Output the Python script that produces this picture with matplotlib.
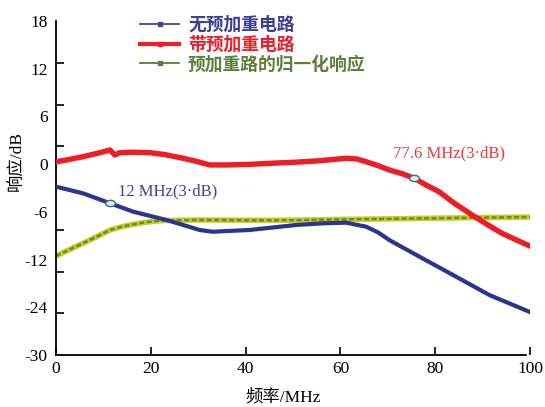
import numpy as np
import matplotlib
matplotlib.use("Agg")
import matplotlib.pyplot as plt
from matplotlib.lines import Line2D
from matplotlib.path import Path
from matplotlib.transforms import Affine2D

# ---------------- data ----------------
tick_labels_db = [-30, -24, -12, -6, 0, 6, 12, 18]
x_ticks = [0, 20, 40, 60, 80, 100]

red_x = [0, 2, 5.7, 9, 11.4, 12.4, 13.5, 16, 19.8, 23, 26.8, 30, 32.4, 36, 40.8, 45,
         50.7, 55, 61.2, 63.5, 65.4, 68, 70.3, 73, 75.6, 78, 80.8, 84, 87.8, 91, 94.1, 97, 100]
red_y = [0.3, 0.5, 0.94, 1.4, 1.78, 1.15, 1.44, 1.5, 1.44, 1.2, 0.74, 0.3, -0.1, -0.1, -0.03, 0.1,
         0.25, 0.4, 0.74, 0.65, 0.31, -0.2, -0.73, -1.2, -1.78, -2.6, -3.46, -4.9, -6.4, -7.6, -8.7, -9.5, -10.3]

blue_x = [0, 5.7, 11.4, 16.3, 23.3, 30.3, 33, 40.8, 50.7, 56, 61.2, 65.4, 68, 70.3, 77.3, 84.4, 91.4, 100]
blue_y = [-2.83, -3.67, -4.92, -5.98, -7.02, -8.28, -8.5, -8.28, -7.65, -7.45, -7.36, -7.86, -8.6, -9.54,
          -11.84, -16.3, -20.9, -24.6]

green_x = [0, 3, 5.7, 9, 11.4, 14, 16.3, 19, 21.9, 26, 30.3, 40, 50, 60, 70, 80, 90, 100]
green_y = [-11.55, -10.7, -9.95, -9.0, -8.28, -7.85, -7.57, -7.3, -7.11, -7.05, -7.02, -7.05, -7.05,
           -6.95, -6.88, -6.8, -6.72, -6.65]

legend_labels = ["无预加重电路", "带预加重电路", "预加重路的归一化响应"]
marker_x = [11.4, 75.6]
annot_text = ["12 MHz(3·dB)", "77.6 MHz(3·dB)"]
annot_pos = [(13.1, -3.38), (71.0, 1.4)]

# ---------------- style ----------------
BLUE = "#2b3590"
RED = "#ee1c25"
OLIVE = "#6b8a2c"
YELLOW = "#c9cc2a"

serif = ["Liberation Serif", "Noto Sans CJK SC"]
plt.rcParams["font.family"] = serif

pos = np.arange(len(tick_labels_db), dtype=float)


def fwd(v):
    return np.interp(v, tick_labels_db, pos)


def inv(p):
    return np.interp(p, pos, tick_labels_db)


W, H = 545, 407
fig = plt.figure(figsize=(W / 100, H / 100), dpi=100)
ax = fig.add_axes([56 / W, 1 - 355 / H, (530 - 56) / W, (355 - 21) / H])
ax.set_yscale("function", functions=(fwd, inv))
ax.set_xlim(0, 100)
ax.set_ylim(-30, 18)

# curves
ax.plot(green_x, green_y, color=YELLOW, lw=4.0, solid_capstyle="butt", zorder=2)
ax.plot(green_x, green_y, color=OLIVE, lw=1.8, dashes=(2, 1), zorder=2.1)
ax.plot(blue_x, blue_y, color=BLUE, lw=3.0, zorder=3)
ax.plot(red_x, red_y, color=RED, lw=3.9, zorder=4)

# 3 dB markers
ell = Path.unit_circle().transformed(Affine2D().scale(1.55, 1.0))
ax.plot([marker_x[0]], [np.interp(marker_x[0], blue_x, blue_y)], marker=ell, ms=7,
        mfc="#dde9f0", mec="#4a6a88", mew=1.0, ls="none", zorder=5)
ax.plot([marker_x[1]], [np.interp(marker_x[1], red_x, red_y)], marker=ell, ms=7,
        mfc="#dde9f0", mec="#4a6a88", mew=1.0, ls="none", zorder=5)

ax.text(annot_pos[0][0], annot_pos[0][1], annot_text[0], color="#3a4595", fontsize=12,
        va="center", ha="left")
ax.text(annot_pos[1][0], annot_pos[1][1], annot_text[1], color="#ee3a3a", fontsize=12,
        va="center", ha="left")

# axes styling
for s in ["top", "right"]:
    ax.spines[s].set_visible(False)
for s in ["left", "bottom"]:
    ax.spines[s].set_linewidth(1.3)
ax.spines["bottom"].set_bounds(0, 99.2)

ax.set_xticks(x_ticks)
ax.set_xticklabels([str(v) for v in x_ticks])
ax.tick_params(axis="x", direction="in", length=6, width=1.2, labelsize=12.5, pad=4)

# y labels evenly spaced (major, no tick marks), tick marks at 8 even intervals (minor)
ax.set_yticks(tick_labels_db)
ax.set_yticklabels([str(v) for v in tick_labels_db])
ax.tick_params(axis="y", which="major", length=0, labelsize=12.5, pad=6)
minor_p = [k * 7 / 8 for k in [0, 1, 2, 3, 5, 6, 7, 8]]
ax.set_yticks(inv(np.array(minor_p)), minor=True)
ax.tick_params(axis="y", which="minor", direction="in", length=6, width=1.2)

fig.text(18 / W, 1 - 161 / H, "响应/dB", rotation=90, ha="center", va="center",
         fontsize=12.5, family=serif)
fig.text(283 / W, 1 - 397 / H, "频率/MHz", ha="center", va="center", fontsize=12.5,
         family=serif)

# legend
handles = [
    Line2D([], [], color="#3a4a9a", lw=1.3, marker="s", ms=3.5),
    Line2D([], [], color=RED, lw=3.0, marker="s", ms=3.5),
    Line2D([], [], color="#5d7d3a", lw=1.3, marker="s", ms=3.5),
]
leg = fig.legend(handles, legend_labels, loc="upper left",
                 bbox_to_anchor=(140 / W, 1 - 16 / H), frameon=False, numpoints=1,
                 handlelength=2.2, handletextpad=0.5, labelspacing=0.1,
                 borderaxespad=0, borderpad=0,
                 prop={"family": "Noto Sans CJK SC", "weight": "bold", "size": 12.8},
                 labelcolor=["#3a3f92", "#e8202a", "#5d7d3a"])

fig.savefig("out.png", dpi=100)
